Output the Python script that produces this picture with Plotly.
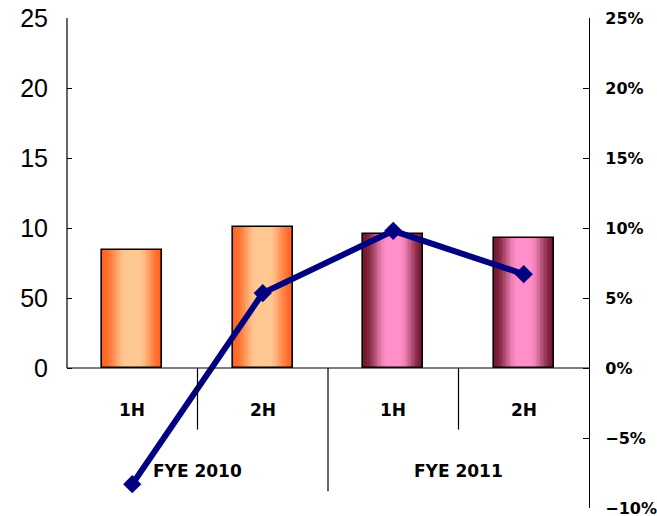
import plotly.graph_objects as go

# Half-year periods and their fiscal-year groups
periods = ["1H", "2H", "1H", "2H"]
fiscal_years = ["FYE 2010", "FYE 2011"]

# Bar values (left axis units) and growth rate (right axis, %)
bar_values = [8.4, 10.1, 9.6, 9.3]
growth_pct = [-8.3, 5.35, 9.8, 6.7]

left_tick_vals = [0, 5, 10, 15, 20, 25]
left_tick_text = ["0", "50", "10", "15", "20", "25"]
right_tick_vals = [-10, -5, 0, 5, 10, 15, 20, 25]
right_tick_text = ["\u221210%", "\u22125%", "0%", "5%", "10%", "15%", "20%", "25%"]

x_pos = list(range(len(periods)))
BAR_W = 0.46
N_LAYERS = 22

# edge / centre colours of the shaded bars for each fiscal year
orange_edge, orange_mid = (255, 100, 34), (255, 200, 146)
pink_edge, pink_mid = (118, 26, 50), (255, 143, 200)
edge_cols = [orange_edge, orange_edge, pink_edge, pink_edge]
mid_cols = [orange_mid, orange_mid, pink_mid, pink_mid]


def mix(a, b, t):
    return "rgb(%d,%d,%d)" % tuple(round(a[i] + (b[i] - a[i]) * t) for i in range(3))


fig = go.Figure()

# cylinder-like shading: stacked overlay bars, narrower and lighter toward the centre
for k in range(N_LAYERS):
    d = 1 - k / N_LAYERS
    t = min(1.0, (1 - d) / 0.78)
    t = t * t * (3 - 2 * t)
    fig.add_trace(go.Bar(
        x=x_pos, y=bar_values, width=BAR_W * d,
        marker=dict(color=[mix(edge_cols[i], mid_cols[i], t) for i in range(4)], line=dict(width=0)),
        showlegend=False, hoverinfo="skip", yaxis="y",
    ))

# bar outlines
fig.add_trace(go.Bar(
    x=x_pos, y=bar_values, width=BAR_W,
    marker=dict(color="rgba(0,0,0,0)", line=dict(color="black", width=1.6)),
    showlegend=False, yaxis="y",
))

# growth rate line
fig.add_trace(go.Scatter(
    x=x_pos, y=growth_pct, yaxis="y2", mode="lines+markers",
    line=dict(color="#000080", width=6),
    marker=dict(symbol="diamond", size=14, color="#000080"),
    showlegend=False, cliponaxis=False,
))

shapes = [
    # category baseline at zero
    dict(type="line", xref="paper", yref="y", x0=0, x1=1, y0=0, y1=0,
         line=dict(color="black", width=1.2)),
    # left axis line, drawn only over the positive range
    dict(type="line", xref="paper", yref="y", x0=0, x1=0, y0=0, y1=25,
         line=dict(color="black", width=1.2)),
    # period separators
    dict(type="line", xref="x", yref="y", x0=0.5, x1=0.5, y0=0, y1=-4.4,
         line=dict(color="black", width=1.2)),
    dict(type="line", xref="x", yref="y", x0=2.5, x1=2.5, y0=0, y1=-4.4,
         line=dict(color="black", width=1.2)),
    dict(type="line", xref="x", yref="y", x0=1.5, x1=1.5, y0=0, y1=-8.8,
         line=dict(color="black", width=1.2)),
]

label_font = dict(family="DejaVu Sans", size=17, color="black", weight="bold")
annotations = [
    dict(x=x_pos[i], y=-3.0, xref="x", yref="y", text=periods[i], showarrow=False, font=label_font)
    for i in range(4)
]
annotations += [
    dict(x=0.5 + 2 * j, y=-7.35, xref="x", yref="y", text=fiscal_years[j], showarrow=False, font=label_font)
    for j in range(2)
]

fig.update_layout(
    width=657, height=516,
    margin=dict(l=67, r=68, t=18, b=8, autoexpand=False),
    paper_bgcolor="white", plot_bgcolor="white",
    barmode="overlay", bargap=0,
    xaxis=dict(range=[-0.5, 3.5], showticklabels=False, showgrid=False, zeroline=False,
               showline=False, ticks="", automargin=False),
    yaxis=dict(range=[-10, 25], tickvals=left_tick_vals, ticktext=left_tick_text,
               ticks="inside", ticklen=5, tickcolor="black", tickwidth=1.2,
               showgrid=False, zeroline=False, showline=False, automargin=False,
               ticklabelstandoff=18,
               tickfont=dict(family="Liberation Sans", size=25, color="black")),
    yaxis2=dict(range=[-10, 25], overlaying="y", side="right",
                tickvals=right_tick_vals, ticktext=right_tick_text,
                ticks="inside", ticklen=6, tickcolor="black", tickwidth=1.2,
                showgrid=False, zeroline=False, showline=True, linecolor="black", linewidth=1.2,
                automargin=False, ticklabelstandoff=12, ticklabeloverflow="allow",
                tickfont=dict(family="DejaVu Sans", size=16, color="black", weight="bold")),
    shapes=shapes,
    annotations=annotations,
)

fig.write_html("out.html")
